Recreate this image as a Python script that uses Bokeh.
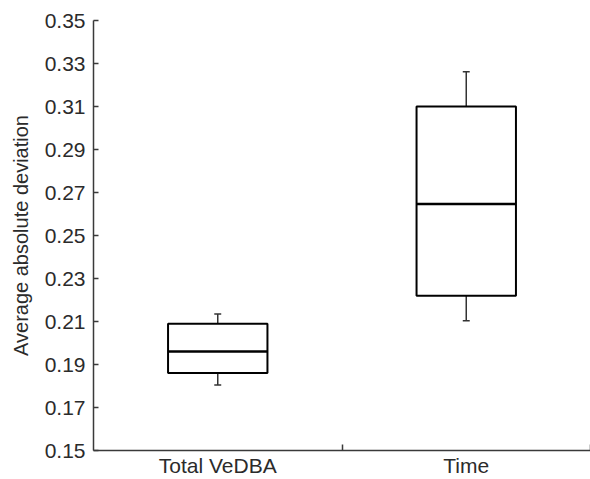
from bokeh.plotting import figure
from bokeh.models import FixedTicker, ColumnDataSource
from bokeh.embed import file_html
from bokeh.resources import INLINE

categories = ["Total VeDBA", "Time"]
positions = [1, 2]
lower_whisker = [0.1805, 0.2104]
q1 = [0.1861, 0.2220]
median = [0.1960, 0.2647]
q3 = [0.2089, 0.3100]
upper_whisker = [0.2135, 0.3262]
y_ticks = [0.15, 0.17, 0.19, 0.21, 0.23, 0.25, 0.27, 0.29, 0.31, 0.33, 0.35]

box_half = 0.2
cap_half = 0.014

src = ColumnDataSource(dict(
    x=positions,
    left=[p - box_half for p in positions],
    right=[p + box_half for p in positions],
    cl=[p - cap_half for p in positions],
    cr=[p + cap_half for p in positions],
    lw=lower_whisker, q1=q1, med=median, q3=q3, uw=upper_whisker,
))

p = figure(width=590, height=479, x_range=(0.5, 2.5), y_range=(0.15, 0.35),
           output_backend="svg", toolbar_location=None,
           min_border_left=93, min_border_top=20, min_border_right=0, min_border_bottom=0)
p.outline_line_color = None
p.xgrid.visible = False
p.ygrid.visible = False
p.background_fill_color = "white"
p.border_fill_color = "white"

font = "Liberation Sans"
axis_col = "#3a3a3a"
text_col = "#2b2b2b"

# whiskers
p.segment(x0="x", y0="q3", x1="x", y1="uw", source=src, line_color="#333333", line_width=1.5)
p.segment(x0="x", y0="q1", x1="x", y1="lw", source=src, line_color="#333333", line_width=1.5)
p.segment(x0="cl", y0="uw", x1="cr", y1="uw", source=src, line_color="#333333", line_width=1.5)
p.segment(x0="cl", y0="lw", x1="cr", y1="lw", source=src, line_color="#333333", line_width=1.5)
# boxes
p.quad(left="left", right="right", bottom="q1", top="q3", source=src,
       fill_color="white", line_color="black", line_width=2)
p.segment(x0="left", y0="med", x1="right", y1="med", source=src, line_color="black", line_width=2.5)

# y axis
p.yaxis.ticker = FixedTicker(ticks=y_ticks, minor_ticks=[])
p.yaxis.major_label_overrides = {t: f"{t:.2f}" for t in y_ticks}
p.yaxis.major_tick_in = 5
p.yaxis.major_tick_out = 0
p.yaxis.minor_tick_in = 0
p.yaxis.minor_tick_out = 0
p.yaxis.major_label_standoff = 8
p.yaxis.axis_label = "Average absolute deviation"
p.yaxis.axis_label_text_font = font
p.yaxis.axis_label_text_font_size = "20px"
p.yaxis.axis_label_text_font_style = "normal"
p.yaxis.axis_label_text_color = text_col
p.yaxis.axis_label_standoff = 10

# x axis
p.xaxis.ticker = FixedTicker(ticks=positions, minor_ticks=[1.5, 2.5])
p.xaxis.major_label_overrides = {pos: c for pos, c in zip(positions, categories)}
p.xaxis.major_tick_in = 0
p.xaxis.major_tick_out = 0
p.xaxis.minor_tick_in = 6
p.xaxis.minor_tick_out = 0
p.xaxis.major_label_standoff = 3

for ax in (p.xaxis, p.yaxis):
    ax.axis_line_color = axis_col
    ax.axis_line_width = 1.5
    ax.major_tick_line_color = axis_col
    ax.minor_tick_line_color = axis_col
    ax.major_tick_line_width = 1.5
    ax.minor_tick_line_width = 1.5
    ax.major_label_text_font = font
    ax.major_label_text_font_size = "21px"
    ax.major_label_text_color = text_col

open("out.html", "w").write(file_html(p, INLINE))
